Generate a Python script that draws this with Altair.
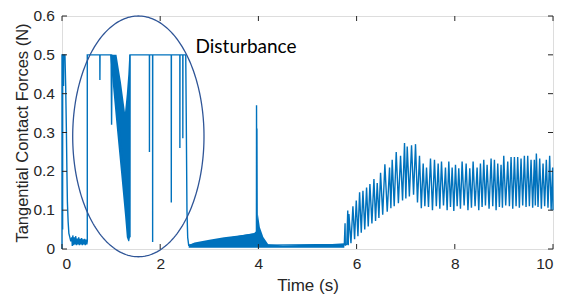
import altair as alt
import numpy as np
import pandas as pd

BLUE = "#0072BD"
INK = "#262626"

# ---------------- data ----------------
# start of the record (time s, force N)
start_t = [0.0, 0.0, 0.012, 0.013, 0.014, 0.03, 0.032, 0.034, 0.06, 0.075, 0.09, 0.1, 0.11, 0.125, 0.14, 0.16, 0.18, 0.2]
start_v = [0.0, 0.5, 0.5, 0.05, 0.5, 0.5, 0.42, 0.5, 0.5, 0.42, 0.3, 0.2, 0.12, 0.07, 0.04, 0.03, 0.02, 0.03]

# small ripple before the disturbance
low_t = [0.21, 0.22, 0.235, 0.25, 0.265, 0.28, 0.295, 0.31, 0.325, 0.34, 0.355, 0.37, 0.385, 0.40, 0.415,
         0.43, 0.445, 0.46, 0.475, 0.49, 0.505, 0.515]
low_v = [0.008, 0.035, 0.01, 0.03, 0.012, 0.033, 0.01, 0.027, 0.012, 0.03, 0.01, 0.026, 0.012, 0.028, 0.01,
         0.025, 0.012, 0.026, 0.01, 0.024, 0.012, 0.02]

# saturated plateau (0.5 N) with drop-outs
plat_t = [0.515, 0.77, 0.772, 0.775, 1.0, 1.01, 1.02]
plat_v = [0.5, 0.5, 0.435, 0.5, 0.5, 0.32, 0.5]

post_t = [1.385, 1.387, 1.78, 1.781, 1.783, 1.845, 1.846, 1.848, 2.225, 2.226, 2.228, 2.40, 2.401, 2.403,
          2.46, 2.461, 2.463, 2.52, 2.53, 2.545, 2.56, 2.58]
post_v = [0.03, 0.5, 0.5, 0.25, 0.5, 0.5, 0.018, 0.5, 0.5, 0.12, 0.5, 0.5, 0.26, 0.5,
          0.5, 0.285, 0.5, 0.5, 0.35, 0.1, 0.03, 0.01]

# spike near 4 s and onset near 5.8 s
mid_t = [3.96, 3.962, 3.966, 3.97, 3.975, 3.99, 4.1, 5.75, 5.765, 5.77, 5.8, 5.82, 5.83]
mid_v = [0.04, 0.37, 0.12, 0.31, 0.08, 0.05, 0.01, 0.012, 0.066, 0.01, 0.012, 0.099, 0.01]

# oscillation after 5.8 s: peaks and troughs
peak_t = [5.844, 5.925, 5.993, 6.061, 6.129, 6.203, 6.271, 6.353, 6.42, 6.488, 6.576, 6.671, 6.725, 6.807,
          6.895, 6.976, 7.031, 7.119, 7.2, 7.281, 7.356, 7.424, 7.505, 7.586, 7.661, 7.729, 7.81, 7.878,
          7.946, 8.014, 8.081, 8.149, 8.231, 8.305, 8.373, 8.454, 8.522, 8.59, 8.658, 8.739, 8.807, 8.875,
          8.942, 8.997, 9.078, 9.146, 9.214, 9.281, 9.349, 9.417, 9.485, 9.553, 9.62, 9.661, 9.729, 9.797,
          9.864, 9.932, 9.993]
peak_v = [0.09, 0.11, 0.125, 0.146, 0.15, 0.158, 0.167, 0.18, 0.17, 0.196, 0.218, 0.21, 0.23, 0.25,
          0.24, 0.273, 0.264, 0.267, 0.27, 0.24, 0.22, 0.21, 0.233, 0.23, 0.22, 0.225, 0.21, 0.225,
          0.21, 0.217, 0.208, 0.225, 0.22, 0.208, 0.225, 0.21, 0.22, 0.23, 0.217, 0.233, 0.23, 0.22,
          0.217, 0.24, 0.225, 0.237, 0.237, 0.237, 0.233, 0.24, 0.24, 0.23, 0.23, 0.246, 0.233, 0.22,
          0.23, 0.24, 0.21]
trough_t = [5.885, 5.959, 6.027, 6.095, 6.166, 6.237, 6.312, 6.386, 6.454, 6.532, 6.624, 6.698, 6.766, 6.851,
            6.936, 7.003, 7.075, 7.16, 7.24, 7.318, 7.39, 7.464, 7.545, 7.624, 7.695, 7.77, 7.844, 7.912,
            7.98, 8.048, 8.115, 8.19, 8.268, 8.339, 8.413, 8.488, 8.556, 8.624, 8.698, 8.773, 8.841, 8.908,
            8.97, 9.037, 9.112, 9.18, 9.248, 9.315, 9.383, 9.451, 9.519, 9.586, 9.64, 9.695, 9.763, 9.83,
            9.898, 9.962, 10.0]
trough_v = [0.015, 0.025, 0.033, 0.042, 0.05, 0.058, 0.066, 0.072, 0.08, 0.088, 0.096, 0.105, 0.11, 0.118,
            0.125, 0.13, 0.135, 0.14, 0.12, 0.105, 0.11, 0.108, 0.1, 0.11, 0.104, 0.112, 0.1, 0.108,
            0.098, 0.11, 0.104, 0.112, 0.1, 0.106, 0.11, 0.1, 0.108, 0.112, 0.104, 0.11, 0.1, 0.108,
            0.106, 0.112, 0.11, 0.104, 0.11, 0.106, 0.112, 0.108, 0.11, 0.106, 0.112, 0.108, 0.104, 0.11,
            0.106, 0.1, 0.1]

# dense (unresolved) bands: envelopes
vband_t = [0.98, 1.11, 1.2, 1.283, 1.32, 1.35, 1.37, 1.385]
vband_lo = [0.5, 0.32, 0.2, 0.087, 0.03, 0.02, 0.02, 0.03]
vband_hi = [0.5, 0.5, 0.43, 0.352, 0.4, 0.45, 0.5, 0.5]

band_t = [2.58, 2.7, 3.0, 3.3, 3.6, 3.9, 3.95, 3.97, 3.99, 4.03, 4.1, 4.2, 4.5, 5.0, 5.5, 5.75]
band_hi = [0.01, 0.017, 0.024, 0.03, 0.035, 0.04, 0.045, 0.06, 0.09, 0.056, 0.031, 0.012, 0.009, 0.011, 0.013, 0.015]
band_lo = [0.003] * len(band_t)

x_ticks = [0, 2, 4, 6, 8, 10]
y_ticks = [0, 0.1, 0.2, 0.3, 0.4, 0.5, 0.6]
y_tick_labels = ["0", "0.1", "0.2", "0.3", "0.4", "0.5", "0.6"]

label_text = ["Disturbance"]
label_t = [2.72]
label_v = [0.519]

# ellipse annotation (centre, radii in data units)
ell_cx, ell_cy, ell_rx, ell_ry = 1.555, 0.29, 1.337, 0.31

# ---------------- build tables ----------------
osc_t, osc_v = [], []
for a, b, c, d in zip(peak_t, peak_v, trough_t, trough_v):
    osc_t += [a, c]
    osc_v += [b, d]

trace_t = start_t + low_t + plat_t + post_t + mid_t + osc_t
trace_v = start_v + low_v + plat_v + post_v + mid_v + osc_v
trace = pd.DataFrame({"t": trace_t, "v": trace_v, "i": range(len(trace_t))})

bands = pd.DataFrame({
    "t": vband_t + band_t,
    "lo": vband_lo + band_lo,
    "hi": vband_hi + band_hi,
    "g": ["v"] * len(vband_t) + ["b"] * len(band_t),
})

th = np.linspace(0, 2 * np.pi, 241)
ellipse = pd.DataFrame({"t": ell_cx + ell_rx * np.cos(th), "v": ell_cy + ell_ry * np.sin(th), "i": range(len(th))})

W, H = 491, 233
xs = alt.Scale(domain=[0, 10], nice=False, zero=False)
ys = alt.Scale(domain=[0, 0.6], nice=False, zero=False)

x_axis = alt.Axis(values=x_ticks, title="Time (s)", tickSize=0, domain=False, grid=False,
                  labelOverlap=False, labelFont="Liberation Sans", labelFontSize=15.5, labelColor=INK,
                  labelPadding=7, titleFont="Liberation Sans", titleFontSize=17,
                  titleFontWeight="normal", titleColor=INK, titlePadding=6)
y_axis = alt.Axis(values=y_ticks, labels=False, title="Tangential Contact Forces (N)", tickSize=0,
                  domain=False, grid=False, titleFont="Liberation Sans",
                  titleFontSize=16.5, titleFontWeight="normal", titleColor=INK, titlePadding=31)

base_area = alt.Chart(bands).mark_area(color=BLUE, opacity=1, interpolate="linear").encode(
    x=alt.X("t:Q", scale=xs, axis=x_axis),
    y=alt.Y("lo:Q", scale=ys, axis=y_axis),
    y2="hi:Q",
    detail="g:N",
)

line = alt.Chart(trace).mark_line(color=BLUE, strokeWidth=1.4).encode(
    x=alt.X("t:Q", scale=xs), y=alt.Y("v:Q", scale=ys), order="i:Q")

ell = alt.Chart(ellipse).mark_line(color="#2F5597", strokeWidth=1.3).encode(
    x=alt.X("t:Q", scale=xs), y=alt.Y("v:Q", scale=ys), order="i:Q")

txt = alt.Chart(pd.DataFrame({"t": label_t, "v": label_v, "s": label_text})).mark_text(
    align="left", baseline="middle", font="Lato", fontSize=19, color="black").encode(
    x=alt.X("t:Q", scale=xs), y=alt.Y("v:Q", scale=ys), text="s:N")

xt = pd.DataFrame({"t": x_ticks})
yt = pd.DataFrame({"v": y_ticks, "lab": y_tick_labels})
tick_b = alt.Chart(xt).mark_rule(color=INK, strokeWidth=1).encode(
    x=alt.X("t:Q", scale=xs), y=alt.value(H), y2=alt.value(H - 5))
tick_t = alt.Chart(xt).mark_rule(color=INK, strokeWidth=1).encode(
    x=alt.X("t:Q", scale=xs), y=alt.value(0), y2=alt.value(5))
tick_l = alt.Chart(yt).mark_rule(color=INK, strokeWidth=1).encode(
    y=alt.Y("v:Q", scale=ys), x=alt.value(0), x2=alt.value(5))
tick_r = alt.Chart(yt).mark_rule(color=INK, strokeWidth=1).encode(
    y=alt.Y("v:Q", scale=ys), x=alt.value(W), x2=alt.value(W - 5))
ylabels = alt.Chart(yt).mark_text(align="right", baseline="middle", font="Liberation Sans",
                                  fontSize=15.5, color=INK).encode(
    y=alt.Y("v:Q", scale=ys), x=alt.value(-7), text="lab:N")

chart = alt.layer(base_area, line, ell, txt, tick_b, tick_t, tick_l, tick_r, ylabels).properties(
    width=W, height=H,
    autosize=alt.AutoSizeParams(type="none"),
    padding={"left": 54, "top": 8, "right": 8, "bottom": 46},
).configure_view(stroke=INK, strokeWidth=1).configure(background="white")

chart.save("out.html", embed_options={"renderer": "svg", "actions": False})
